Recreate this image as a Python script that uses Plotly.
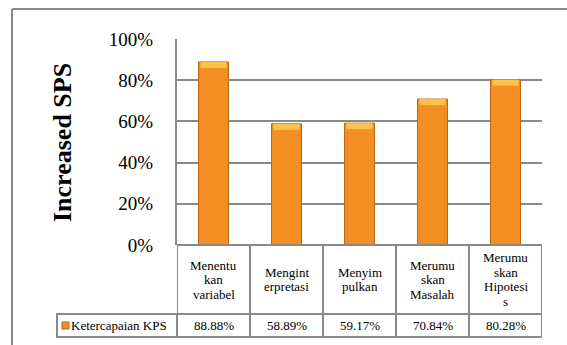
import plotly.graph_objects as go

# ---- data ----
categories = ["Menentukan variabel", "Menginterpretasi", "Menyimpulkan",
              "Merumuskan Masalah", "Merumuskan Hipotesis"]
cat_lines = [["Menentu", "kan", "variabel"],
             ["Mengint", "erpretasi"],
             ["Menyim", "pulkan"],
             ["Merumu", "skan", "Masalah"],
             ["Merumu", "skan", "Hipotesi", "s"]]
values = [88.88, 58.89, 59.17, 70.84, 80.28]
series_name = "Ketercapaian KPS"
y_ticks = [0, 20, 40, 60, 80, 100]
y_title = "Increased SPS"

# ---- layout constants (pixels) ----
W, H = 567, 345
L, R, T, B = 177, 25, 39, 100
plot_h = H - T - B
base_px = T + plot_h          # pixel y of 0%
row1_bottom = 314
row2_bottom = 337
legend_left = 57
grid_col = "#8A8A8A"
serif = "Liberation Serif"


def py(ypx):
    return (base_px - ypx) / plot_h


def px_x(xpx):
    return (xpx - L) / (W - L - R)


fracs = [v / 100 for v in values]
cap = 0.03

fig = go.Figure()
fig.add_trace(go.Bar(
    x=categories, y=fracs, width=0.41, name=series_name,
    marker=dict(color="#F28E22", line=dict(color="#B9651C", width=1)),
    showlegend=False, hoverinfo="skip"))
fig.add_trace(go.Bar(
    x=categories, y=[cap] * len(fracs), base=[f - cap for f in fracs],
    width=0.36, marker=dict(color="#FBC24C", line=dict(width=0)),
    showlegend=False, hoverinfo="skip"))

shapes = []
line = dict(color=grid_col, width=2)
# outer frame
shapes.append(dict(type="line", xref="paper", yref="paper",
                   x0=px_x(12), x1=px_x(W + 5), y0=py(9), y1=py(9), line=line))
shapes.append(dict(type="line", xref="paper", yref="paper",
                   x0=px_x(12), x1=px_x(12), y0=py(9), y1=py(H + 5), line=line))
# table horizontal lines
for ypx in (base_px, row1_bottom, row2_bottom):
    shapes.append(dict(type="line", xref="x", yref="paper",
                       x0=-0.5, x1=len(categories) - 0.5, y0=py(ypx), y1=py(ypx), line=line))
# table vertical lines
for i in range(len(categories) + 1):
    shapes.append(dict(type="line", xref="x", yref="paper",
                       x0=i - 0.5, x1=i - 0.5, y0=py(base_px), y1=py(row2_bottom), line=line))
# legend cell
shapes.append(dict(type="rect", xref="paper", yref="paper",
                   x0=px_x(legend_left), x1=0, y0=py(row1_bottom), y1=py(row2_bottom),
                   line=line))
# legend key
shapes.append(dict(type="rect", xref="paper", yref="paper",
                   x0=px_x(62), x1=px_x(69), y0=py(322), y1=py(329),
                   fillcolor="#F28E22", line=dict(color="#B9651C", width=1)))

annotations = []
cell_center = (base_px + row1_bottom) / 2
lh = 14.5
for i, lines in enumerate(cat_lines):
    n = len(lines)
    for j, t in enumerate(lines):
        ypx = cell_center + (j - (n - 1) / 2) * lh
        annotations.append(dict(x=i, xref="x", y=py(ypx), yref="paper", text=t,
                                showarrow=False, xanchor="center", yanchor="middle",
                                font=dict(family=serif, size=13, color="black")))
val_center = (row1_bottom + row2_bottom) / 2
for i, v in enumerate(values):
    annotations.append(dict(x=i, xref="x", y=py(val_center), yref="paper",
                            text=f"{v:.2f}%", showarrow=False, xanchor="center",
                            yanchor="middle",
                            font=dict(family=serif, size=13, color="black")))
annotations.append(dict(x=px_x(69), xref="paper", y=py(val_center), yref="paper",
                        text=series_name, showarrow=False, xanchor="left", yanchor="middle",
                        font=dict(family=serif, size=13, color="black")))
annotations.append(dict(x=px_x(62), xref="paper", y=py(143), yref="paper",
                        text=f"<b>{y_title}</b>", textangle=-90, showarrow=False,
                        xanchor="center", yanchor="middle",
                        font=dict(family=serif, size=26, color="black")))

fig.update_layout(
    width=W, height=H, margin=dict(l=L, r=R, t=T, b=B),
    paper_bgcolor="white", plot_bgcolor="white",
    font=dict(family=serif),
    barmode="overlay", bargap=0.59, showlegend=False,
    shapes=shapes, annotations=annotations,
    xaxis=dict(showticklabels=False, showgrid=False, zeroline=False,
               showline=False, range=[-0.5, len(categories) - 0.5], fixedrange=True),
    yaxis=dict(range=[0, 1], tickvals=[t / 100 for t in y_ticks],
               ticktext=[f"{t}%" for t in y_ticks],
               showgrid=True, gridcolor=grid_col, gridwidth=2, zeroline=False,
               showline=True, linecolor=grid_col, linewidth=2, ticks="",
               ticklabelstandoff=18,
               tickfont=dict(family=serif, size=19, color="black")),
)

fig.write_html("out.html")
